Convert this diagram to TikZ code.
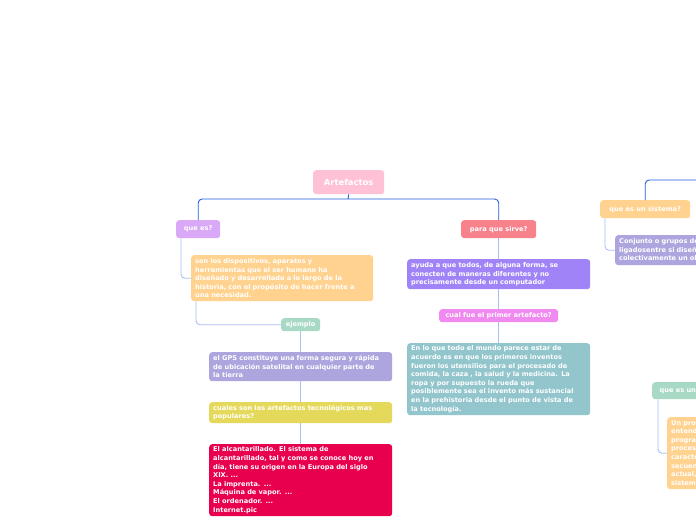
\documentclass[tikz,border=0pt]{standalone}
\usepackage{fontspec}
\setmainfont{DejaVu Sans}
\usepackage{tikz}

\definecolor{rosa}{HTML}{FFC1D6}
\definecolor{lila}{HTML}{D9A8F7}
\definecolor{salmon}{HTML}{F7828C}
\definecolor{naranja}{HTML}{FFD28F}
\definecolor{menta}{HTML}{A8D9C4}
\definecolor{lavanda}{HTML}{ADA5DD}
\definecolor{amarillo}{HTML}{E5D95B}
\definecolor{carmin}{HTML}{E8004F}
\definecolor{violeta}{HTML}{A084F7}
\definecolor{magenta}{HTML}{F18AF0}
\definecolor{petroleo}{HTML}{92C5CC}
\definecolor{azul}{HTML}{1F5FE0}
\definecolor{celeste}{HTML}{A8BEF8}

\begin{document}
\begin{tikzpicture}[x=1pt, y=-1pt,
    box/.style={rounded corners=3pt, anchor=north west, text=white, align=left,
      font=\fontsize{6.6}{8.6}\selectfont\bfseries, inner xsep=4pt, inner ysep=0pt},
    tag/.style={box, align=center},
    main/.style={draw=azul, line width=0.9pt, rounded corners=4pt},
    sub/.style={draw=celeste, line width=0.9pt, rounded corners=4pt}]
  \clip (0,0) rectangle (696,520);
  \fill[white] (0,0) rectangle (696,520);
  % central topic
  \node[tag, fill=rosa, minimum width=71pt, minimum height=24pt,
    font=\fontsize{8.4}{10}\selectfont\bfseries] (art) at (313,170) {Artefactos};
  % left branch
  \node[tag, fill=lila, minimum width=44pt, minimum height=18pt] (quees) at (176,220) {que es?};
  \node[box, fill=naranja, minimum width=182pt, minimum height=46pt, text width=174pt] (def) at (191,255)
    {son los dispositivos, aparatos y\\herramientas que el ser humano ha\\diseñado y desarrollado a lo largo de la\\historia, con el propósito de hacer frente a\\una necesidad.};
  \node[tag, fill=menta, minimum width=39pt, minimum height=13pt] (ejemplo) at (281,318) {ejemplo};
  \node[box, fill=lavanda, minimum width=183pt, minimum height=29pt, text width=175pt] (gps) at (209,352)
    {el GPS constituye una forma segura y rápida\\de ubicación satelital en cualquier parte de\\la tierra};
  \node[box, fill=amarillo, minimum width=183pt, minimum height=21pt, text width=175pt] (cuales) at (209,402)
    {cuales son los artefactos tecnológicos mas\\populares?};
  \node[box, fill=carmin, minimum width=183pt, minimum height=72pt, text width=175pt] (alcan) at (209,444)
    {El alcantarillado. El sistema de\\alcantarillado, tal y como se conoce hoy en\\día, tiene su origen en la Europa del siglo\\XIX. ...\\La imprenta. ...\\Máquina de vapor. ...\\El ordenador. ...\\Internet.pic};
  % middle branch
  \node[tag, fill=salmon, minimum width=75pt, minimum height=18pt] (para) at (461,220) {para que sirve?};
  \node[box, fill=violeta, minimum width=183pt, minimum height=30pt, text width=175pt] (ayuda) at (407,259)
    { ayuda a que todos, de alguna forma, se\\conecten de maneras diferentes y no\\precisamente desde un computador};
  \node[tag, fill=magenta, minimum width=119pt, minimum height=13pt] (cual) at (439,309) {cual fue el primer artefacto?};
  \node[box, fill=petroleo, minimum width=183pt, minimum height=72pt, text width=175pt] (enlo) at (407,343)
    {En lo que todo el mundo parece estar de\\acuerdo es en que los primeros inventos\\fueron los utensilios para el procesado de\\comida, la caza , la salud y la medicina. La\\ropa y por supuesto la rueda que\\posiblemente sea el invento más sustancial\\en la prehistoria desde el punto de vista de\\la tecnología.};
  % right branch (cut by the page edge)
  \node[tag, fill=naranja, minimum width=90pt, minimum height=18pt] (sist) at (600,200) {que es un sistema?};
  \node[box, fill=lavanda, minimum width=160pt, minimum height=30pt, text width=152pt] (conj) at (615,235)
    {Conjunto o grupos de elementos\\ligadosentre si diseñados para lograr\\colectivamente un objetivo};
  \node[tag, fill=menta, minimum width=90pt, minimum height=17pt] (soft) at (652,382) {que es un software?};
  \node[box, fill=naranja, minimum width=170pt, minimum height=72pt, text width=162pt] (prog) at (667,417)
    {Un programa informático\\entendido como un conjunto de\\programas e instrucciones que\\procesan datos con\\características\\secuenciales\\actual, para el\\sistema operativo};
  \coordinate (hub) at (348,199);
  \coordinate (far) at (710,180);
  % connectors
  \draw[main] (art.south) -- (hub);
  \draw[main] (quees.north) |- (hub) -| (para.north);
  \draw[main] (sist.north) |- (far);
  \draw[sub] ([xshift=5pt]quees.south west) |- (def.west);
  \draw[sub] ([xshift=5pt]def.south west) |- (ejemplo.west);
  \draw[sub] ([xshift=5pt]sist.south west) |- (conj.west);
  \draw[sub] ([xshift=6pt]soft.south west) |- (prog.west);
  \foreach \a/\b in {ejemplo/gps, gps/cuales, cuales/alcan, para/ayuda, ayuda/cual, cual/enlo} {
    \draw[sub] (\a.south) -- (\b.north);
  }
\end{tikzpicture}
\end{document}
